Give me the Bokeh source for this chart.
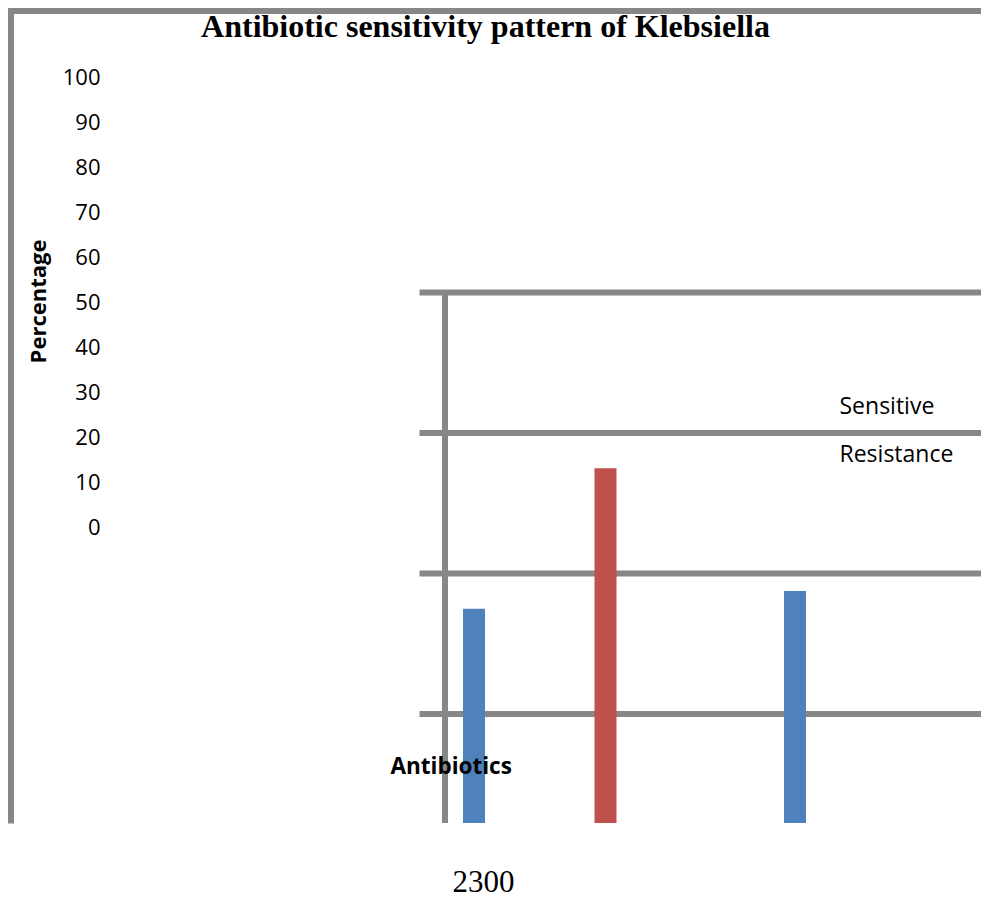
import math
from bokeh.plotting import figure
from bokeh.models import Range1d, ColumnDataSource
from bokeh.core.properties import value
from bokeh.embed import file_html
from bokeh.resources import INLINE

# ---------------- data ----------------
title = "Antibiotic sensitivity pattern of Klebsiella"
y_axis_title = "Percentage"
x_axis_title = "Antibiotics"
page_number = "2300"
series = ["Sensitive", "Resistance"]
series_colors = ["#4F81BD", "#C0504D"]
tick_values = [100, 90, 80, 70, 60, 50, 40, 30, 20, 10, 0]
tick_labels = [str(v) for v in tick_values]
grid_values = [20, 40, 60, 80]
bar_series = ["Sensitive", "Resistance", "Sensitive"]
bar_pos = [29, 160.5, 350]
bar_values = [35, 55, 37.5]
visible_floor = 4.5

# ---------------- styles ----------------
GRAY = "#878787"
W, H = 981, 901
SANS = "Open Sans"
SERIF = "Liberation Serif"

p = figure(width=W, height=H, output_backend="svg", toolbar_location=None,
           x_range=Range1d(-444.5, 536.5), y_range=Range1d(-6.69, 121.57),
           x_axis_location=None, y_axis_location=None, min_border=0,
           outline_line_color=None, background_fill_color="white",
           border_fill_color="white")
p.xgrid.grid_line_color = None
p.ygrid.grid_line_color = None

# page-pixel helper ranges (for decoration placement) and the left percentage scale
p.extra_x_ranges = {"px": Range1d(0, 981)}
p.extra_y_ranges = {"px": Range1d(901, 0), "pct": Range1d(-83.22, 117.0)}

# outer frame (left and top borders)
p.segment(x0=[10.5, 7.5], y0=[7.5, 10.5], x1=[10.5, 981], y1=[823, 10.5],
          line_width=6, line_color=GRAY, x_range_name="px", y_range_name="px")

# inner horizontal grid lines
p.segment(x0=[-25.5] * len(grid_values), y0=grid_values,
          x1=[536.5] * len(grid_values), y1=grid_values,
          line_width=6, line_color=GRAY)
# inner vertical axis line
p.segment(x0=[0], y0=[visible_floor], x1=[0], y1=[max(grid_values)],
          line_width=6, line_color=GRAY)

# bars
color_map = dict(zip(series, series_colors))
src = ColumnDataSource(dict(x=bar_pos, top=bar_values,
                            color=[color_map[s] for s in bar_series],
                            series=bar_series))
p.vbar(x="x", top="top", bottom=visible_floor, width=22, fill_color="color",
       line_color=None, source=src)

# title
p.text(x=[485], y=[25], text=[title], text_align="center", text_baseline="alphabetic",
       text_font=value(SERIF), text_font_style="bold", text_font_size="32px",
       text_color="black", x_range_name="px", y_range_name="px")

# left tick labels (percentage scale)
p.text(x=[100] * len(tick_values), y=tick_values, text=tick_labels,
       text_align="right", text_baseline="alphabetic", y_offset=0,
       text_font=value(SANS), text_font_size="22px", text_color="black",
       x_range_name="px", y_range_name="pct")

# y axis title
p.text(x=[36], y=[301], text=[y_axis_title], angle=math.pi / 2,
       text_align="center", text_baseline="alphabetic",
       text_font=value(SANS), text_font_style="bold", text_font_size="22px",
       text_color="black", x_range_name="px", y_range_name="px")

# legend labels
p.text(x=[839, 839], y=[404, 452], text=series, text_align="left",
       text_baseline="alphabetic", text_font=value(SANS), text_font_size="23px",
       text_color="black", x_range_name="px", y_range_name="px")

# x axis title
p.text(x=[390], y=[765], text=[x_axis_title], text_align="left",
       text_baseline="alphabetic", text_font=value(SANS), text_font_style="bold",
       text_font_size="22.5px", text_color="black",
       x_range_name="px", y_range_name="px")

# page number
p.text(x=[452], y=[881], text=[page_number], text_align="left",
       text_baseline="alphabetic", text_font=value(SERIF), text_font_size="31px",
       text_color="black", x_range_name="px", y_range_name="px")

open("out.html", "w").write(file_html(p, INLINE))
